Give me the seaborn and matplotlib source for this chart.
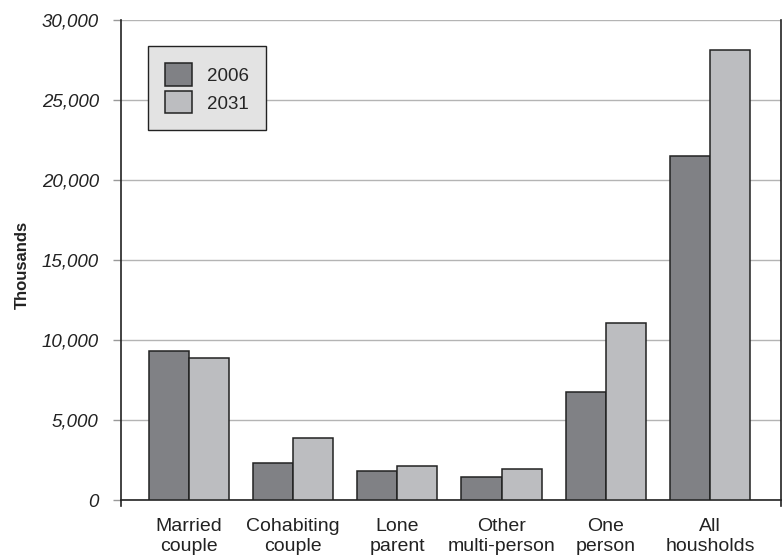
import matplotlib
matplotlib.use("Agg")
import matplotlib.pyplot as plt
import seaborn as sns
import pandas as pd
from matplotlib.ticker import FuncFormatter
from matplotlib.patches import Patch

categories = ["Married\ncouple", "Cohabiting\ncouple", "Lone\nparent",
              "Other\nmulti-person", "One\nperson", "All\nhousholds"]
years = ["2006", "2031"]
values_2006 = [9300, 2300, 1800, 1450, 6730, 21490]
values_2031 = [8900, 3900, 2120, 1960, 11040, 28110]
y_ticks = [0, 5000, 10000, 15000, 20000, 25000, 30000]

df = pd.DataFrame({
    "category": categories * 2,
    "year": [years[0]] * len(categories) + [years[1]] * len(categories),
    "value": values_2006 + values_2031,
})

sns.set_theme(style="white")
plt.rcParams["font.family"] = ["Liberation Sans", "DejaVu Sans"]

colors = {"2006": "#808185", "2031": "#bcbdc0"}
ink = "#222222"

fig = plt.figure(figsize=(7.84, 5.56), dpi=100)
ax = fig.add_axes([0.1543, 0.1007, 0.8419, 0.8633])

sns.barplot(data=df, x="category", y="value", hue="year", palette=colors,
            width=0.77, edgecolor=ink, linewidth=1.1, saturation=1,
            ax=ax, legend=False, zorder=3)

ax.set_xlim(-0.65, 5.68)
ax.set_ylim(0, 30000)
ax.set_yticks(y_ticks)
ax.yaxis.set_major_formatter(FuncFormatter(lambda v, p: f"{int(v):,}"))
ax.grid(axis="y", color="#b4b4b4", linewidth=1.0, zorder=0)
ax.set_axisbelow(True)

ax.spines["top"].set_visible(False)
for side in ["left", "bottom", "right"]:
    ax.spines[side].set_visible(True)
    ax.spines[side].set_color(ink)
    ax.spines[side].set_linewidth(1.2)
# left and right spines run a little below the baseline
ax.spines["left"].set_bounds(-400, 30000)
ax.spines["right"].set_bounds(-400, 30000)

ax.tick_params(axis="y", which="major", left=True, length=6, width=1,
               color="#999999", labelsize=13.5, pad=10)
ax.tick_params(axis="x", bottom=False, labelsize=14, pad=7)
for lab in ax.get_yticklabels():
    lab.set_fontstyle("italic")
    lab.set_color(ink)
for lab in ax.get_xticklabels():
    lab.set_color(ink)
    lab.set_linespacing(1.2)

ax.set_xlabel("")
ax.set_ylabel("Thousands", fontsize=12, fontweight="bold", color=ink)
ax.yaxis.set_label_coords(-0.138, 0.49)

handles = [Patch(facecolor=colors[y], edgecolor=ink, linewidth=1.1)
           for y in years]
leg = ax.legend(handles, years, loc="upper left", bbox_to_anchor=(0.041, 0.945),
                fontsize=13.5, frameon=True, fancybox=False, handlelength=1.45,
                handleheight=1.45, handletextpad=0.8, borderpad=0.9,
                labelspacing=0.3, borderaxespad=0)
frame = leg.get_frame()
frame.set_facecolor("#e3e3e3")
frame.set_edgecolor(ink)
frame.set_linewidth(1.0)
frame.set_alpha(1)
leg.set_zorder(5)

fig.savefig("out.png", dpi=100)
